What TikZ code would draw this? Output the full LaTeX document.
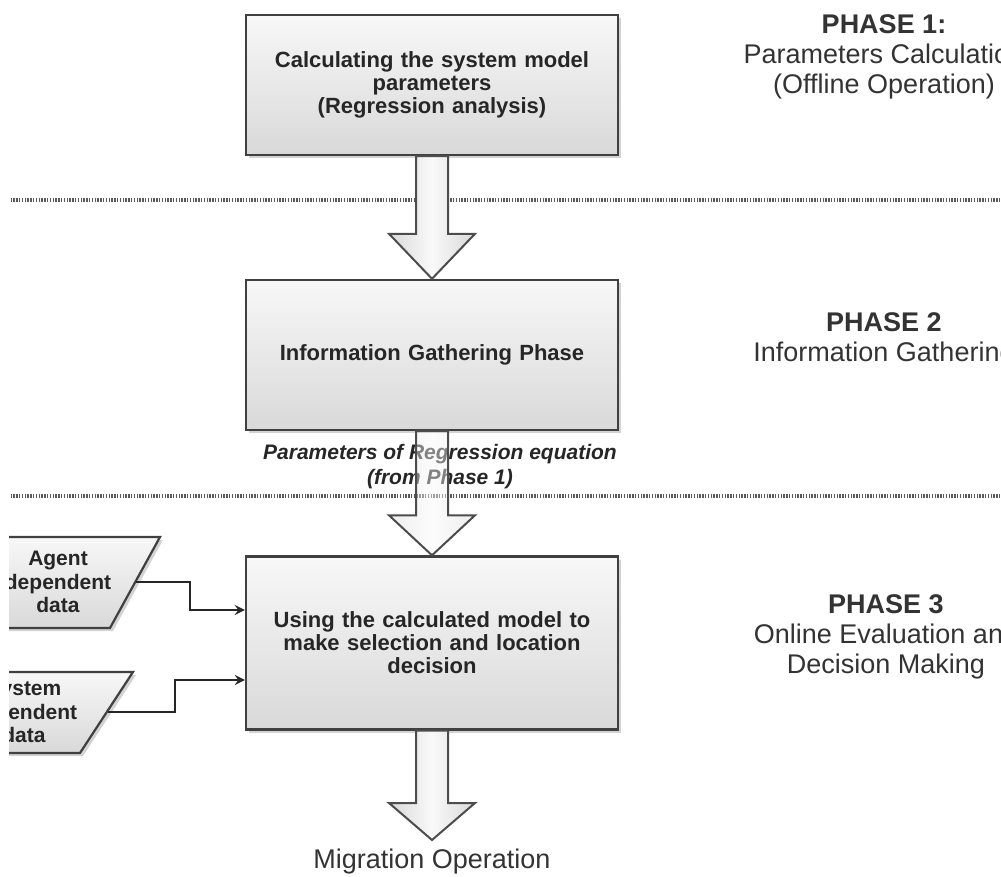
\documentclass[tikz,border=0pt]{standalone}
\usepackage{fontspec}
\setmainfont{Liberation Sans}
\usetikzlibrary{calc,positioning,shadows}

% fat block arrow: from, tip, head length
\newcommand{\fatarrow}[4][]{%
\draw[fatarr,#1] ($(#2)+(-16,0)$) -- ($(#3)+(-16,-#4)$) -- ($(#3)+(-43,-#4)$) -- (#3)
  -- ($(#3)+(43,-#4)$) -- ($(#3)+(16,-#4)$) -- ($(#2)+(16,0)$) -- cycle;}

\begin{document}
\begin{tikzpicture}
[x=0.5pt,y=-0.5pt,>=stealth,
stepbox/.style = {draw=black!75, line width=1.2pt, top color=gray!6, bottom color=gray!30,
  minimum width=186pt, text width=170pt, align=center, text=black!85,
  font=\bfseries\fontsize{11}{11.5}\selectfont,
  drop shadow={shadow xshift=1.5pt,shadow yshift=-1.5pt,opacity=.35}},
datain/.style = {draw=black!75, line width=1.1pt, top color=gray!6, bottom color=gray!30,
  drop shadow={shadow xshift=1.5pt,shadow yshift=-1.5pt,opacity=.35}},
datatext/.style = {align=center, text=black!85, font=\bfseries\fontsize{10.5}{11.7}\selectfont},
fatarr/.style = {draw=black!70, line width=1pt, left color=gray!30, right color=gray!30, middle color=gray!5},
phase/.style = {align=center, text=black!80, font=\fontsize{13.5}{15}\selectfont},
phaseline/.style = {draw=black!65, line width=1.8pt, dash pattern=on 0.7pt off 0.7pt},
conn/.style = {draw=black!85, line width=1.2pt, ->},]
\useasboundingbox (0,0) rectangle (1001,877);
\clip (9,0) rectangle (1001,877);

\draw[phaseline] (5,200) -- (1001,200);
\draw[phaseline] (5,496) -- (1001,496);

\node (b1) at (432,85)[stepbox,minimum height=70pt] {Calculating the system model\\parameters\\(Regression analysis)};
\node (b2) at (432,355)[stepbox,minimum height=75pt] {Information Gathering Phase};
\node (b3) at (432,643)[stepbox,minimum height=86.5pt] {Using the calculated model to\\make selection and location\\decision};

\node (par) at (440,467)[align=center,text=black!85,font=\bfseries\itshape\fontsize{10.5}{12.5}\selectfont] {Parameters of Regression equation\\(from Phase 1)};

\node (migr) at (432,862)[phase] {Migration Operation};
\coordinate (tip3) at (432,840);

\fatarrow{b1.south}{b2.north}{45}
\fatarrow[fill opacity=.45]{b2.south}{b3.north}{40}
\fatarrow{b3.south}{tip3}{37}

% input data
\draw[datain] (-60,537) -- (160,537) -- (110,628) -- (-60,628) -- cycle;
\node (agent) at (58,582)[datatext] {Agent\\dependent\\data};
\coordinate (agentout) at (136,582);
\draw[datain] (-90,672) -- (133,672) -- (80,753) -- (-90,753) -- cycle;
\node (sys) at (24,712)[datatext] {System\\dependent\\data};
\coordinate (sysout) at (108,712);

\coordinate (in1) at ($(b3.west)+(0,-33)$);
\coordinate (in2) at ($(b3.west)+(0,37)$);
\draw[conn] (agentout) -- ++(54,0) |- (in1);
\draw[conn] (sysout) -- ++(67,0) |- (in2);

\node (ph1) at (884,57)[phase] {\textbf{PHASE 1:}\\Parameters Calculation\\(Offline Operation)};
\node (ph2) at (884,340)[phase] {\textbf{PHASE 2}\\Information Gathering};
\node (ph3) at (886,637)[phase] {\textbf{PHASE 3}\\Online Evaluation and\\Decision Making};
\end{tikzpicture}
\end{document}
